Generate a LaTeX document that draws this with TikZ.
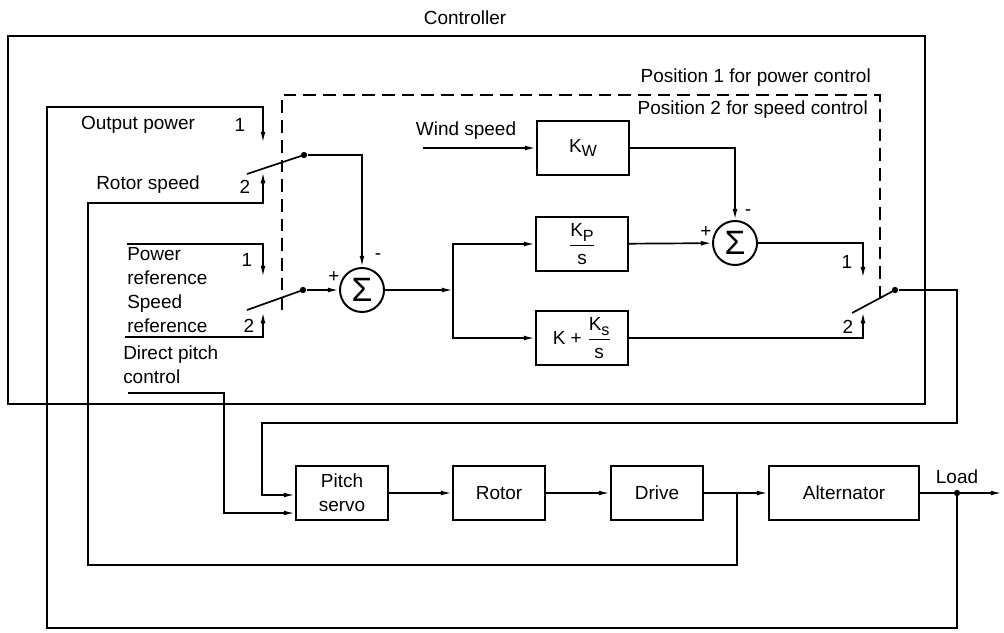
\documentclass[tikz,border=0pt]{standalone}
\usepackage{fontspec}
\usepackage{amsmath}
\setmainfont{Liberation Sans}
\usetikzlibrary{positioning, arrows.meta, calc}
\newcommand{\subl}[1]{\raisebox{-0.45ex}{\fontsize{11.5}{11.5}\selectfont #1}}

\begin{document}
\begin{tikzpicture}[
  x=0.025cm, y=-0.025cm,
  line width=1.2pt,
  font=\fontsize{13.5}{17}\selectfont,
  block/.style={draw, line width=1.4pt, minimum width=2.3cm, minimum height=1.35cm,
                align=center, inner sep=0pt},
  sum/.style={draw, circle, line width=1.4pt, minimum size=1.1cm, inner sep=0pt},
  wire/.style={-{Latex[length=8pt,width=3.5pt]}},
  dot/.style={circle, fill, inner sep=0pt, minimum size=4.5pt},
  lbl/.style={inner sep=1pt}
]
  \useasboundingbox (0,0) rectangle (1004,632);

  \node[lbl] (ctrltitle) at (465,18) {Controller};
  \draw[line width=1.4pt] (8,36) rectangle (925,404);
  \draw[dashed, dash pattern=on 9pt off 5pt] (282,310) |- (880,95) -- (880,305);
  \node[lbl, anchor=east] (pos1) at (873,78) {Position 1 for power control};
  \node[lbl, anchor=east] (pos2) at (870,110) {Position 2 for speed control};

  % controller blocks
  \node[block] (kw) at (583,148) {K\subl{W}};
  \node[block] (kp) at (582,244) {$\dfrac{\text{K\subl{P}}}{\text{s}}$};
  \node[block] (ks) at (582,338) {K + $\dfrac{\text{K\subl{s}}}{\text{s}}$};
  \node[sum] (s1) at (362,290) {\fontsize{24}{24}\selectfont Σ};
  \node[sum] (s2) at (735,243) {\fontsize{24}{24}\selectfont Σ};

  % plant blocks
  \node[block] (servo) at (342,493) {Pitch\\servo};
  \node[block] (rotor) at (499,493) {Rotor};
  \node[block] (drive) at (657,493) {Drive};
  \node[block, minimum width=3.75cm] (alt) at (844,493) {Alternator};

  % switches
  \coordinate (in1a) at (263,143);
  \coordinate (in1b) at (263,172);
  \coordinate (in2a) at (263,277);
  \coordinate (in2b) at (263,312);
  \coordinate (in3a) at (863,278);
  \coordinate (in3b) at (863,312);
  \node[dot] (sw1) at (304,155) {};
  \node[dot] (sw2) at (303,290) {};
  \node[dot] (sw3) at (895,290) {};
  \coordinate (sw1a) at (247,174);
  \coordinate (sw2a) at (247,310);
  \coordinate (sw3a) at (852,313);
  \draw (sw1a) -- (sw1.center);
  \draw (sw2a) -- (sw2.center);
  \draw (sw3a) -- (sw3.center);

  % input labels
  \node[lbl] (outp) at (138,125) {Output power};
  \node[lbl] at (240,125) {1};
  \node[lbl] (rspd) at (148,185) {Rotor speed};
  \node[lbl] at (245,187) {2};
  \node[lbl, anchor=west, align=left] (refs) at (125,290) {Power\\reference\\Speed\\reference};
  \node[lbl] at (247,260) {1};
  \node[lbl] at (249,326) {2};
  \node[lbl, anchor=west, align=left] (dpctl) at (121,365) {Direct pitch\\control};
  \node[lbl] (wspd) at (466,131) {Wind speed};
  \node[lbl] at (334,277) {+};
  \node[lbl] at (378,257) {-};
  \node[lbl] at (706,232) {+};
  \node[lbl] at (748,213) {-};
  \node[lbl] at (847,262) {1};
  \node[lbl] at (848,327) {2};

  % controller wiring
  \coordinate (pref) at (127,244);
  \coordinate (sref) at (125,337);
  \coordinate (wind) at (423,148);
  \coordinate (split) at (453,290);
  \draw[wire] (pref) -| (in2a);
  \draw[wire] (sref) -| (in2b);
  \draw[wire] (sw1) -| (s1);
  \draw[wire] (sw2) -- (s1);
  \draw[wire] (s1) -- (split);
  \draw[wire] (split) |- (kp);
  \draw[wire] (split) |- (ks);
  \draw[wire] (wind) -- (kw);
  \draw[wire] (kw) -| (s2);
  \draw[wire] (kp) -- (s2);
  \draw[wire] (s2) -| (in3a);
  \draw[wire] (ks) -| (in3b);

  % plant wiring
  \coordinate (tap) at (737,493);
  \coordinate (out) at (1002,493);
  \node[dot] (load) at (957,493) {};
  \node[lbl] (loadlbl) at (957,477) {Load};
  \draw[wire] (servo) -- (rotor);
  \draw[wire] (rotor) -- (drive);
  \draw[wire] (drive) -- (alt);
  \draw[wire] (alt) -- (out);

  % feedback loops
  \coordinate (dpc) at (128,393);
  \coordinate (c1) at (957,423);
  \coordinate (c2) at (262,423);
  \coordinate (servoin1) at ($(servo.west)+(0,2)$);
  \coordinate (servoin2) at ($(servo.west)+(0,20)$);
  \draw[wire] (sw3) -| (c1) -- (c2) |- (servoin1);
  \draw[wire] (dpc) -| (224,513) -- (servoin2);
  \draw[wire] (tap) -- ++(0,72) -| (88,203) -| (in1b);
  \draw[wire] (load.center) -- ++(0,135) -| (47,107) -| (in1a);
\end{tikzpicture}
\end{document}
